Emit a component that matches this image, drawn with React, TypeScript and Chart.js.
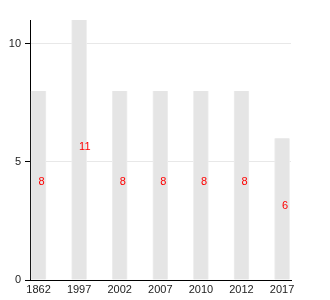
import React, { useEffect, useRef } from "react";
import { Chart, registerables } from "chart.js";

Chart.register(...registerables);

const categories = ["1862", "1997", "2002", "2007", "2010", "2012", "2017"];
const values = [8, 11, 8, 8, 8, 8, 6];
const yTicks = [0, 5, 10];

const labelPlugin = {
  id: "barLabels",
  afterDatasetsDraw(chart: any) {
    const ctx = chart.ctx;
    const meta = chart.getDatasetMeta(0);
    ctx.save();
    ctx.fillStyle = "#ff0000";
    ctx.font = "11px 'Liberation Sans', Arial, sans-serif";
    ctx.textAlign = "left";
    ctx.textBaseline = "middle";
    meta.data.forEach((el: any, i: number) => {
      const mid = (el.y + el.base) / 2 - 3;
      ctx.fillText(String(values[i]), el.x, mid);
    });
    ctx.restore();
  },
};

export default function App() {
  const ref = useRef<HTMLCanvasElement>(null);
  useEffect(() => {
    if (!ref.current) return;
    const chart = new Chart(ref.current, {
      type: "bar",
      data: {
        datasets: [
          {
            data: values.map((v, i) => ({ x: i, y: v })),
            backgroundColor: "#e5e5e5",
            borderColor: "#ededed",
            borderWidth: { left: 1, right: 1, top: 0, bottom: 0 },
            barThickness: 15,
          } as any,
        ],
      },
      plugins: [labelPlugin],
      options: {
        animation: false,
        responsive: true,
        maintainAspectRatio: false,
        layout: { padding: { left: 0, right: 39, top: 20, bottom: 0 } },
        plugins: { legend: { display: false }, tooltip: { enabled: false } },
        scales: {
          x: {
            type: "linear",
            offset: false,
            min: -0.21,
            max: 6.22,
            afterBuildTicks: (s: any) => {
              s.ticks = categories.map((_, i) => ({ value: i }));
            },
            afterFit: (s: any) => {
              s.height = 20;
            },
            grid: { display: false, drawTicks: false },
            border: { display: true, color: "#000", width: 1 },
            ticks: {
              callback: (v: any) => categories[v] ?? "",
              color: "#222",
              font: { family: "'Liberation Sans', Arial, sans-serif", size: 11 },
              padding: 3,
              maxRotation: 0,
              autoSkip: false,
            },
          },
          y: {
            min: 0,
            max: 11,
            afterBuildTicks: (s: any) => {
              s.ticks = yTicks.map((v) => ({ value: v }));
            },
            afterFit: (s: any) => {
              s.width = 30;
            },
            grid: { color: "#e8e8e8", tickColor: "#000", tickLength: 5 },
            border: { display: true, color: "#000", width: 1 },
            ticks: {
              color: "#222",
              font: { family: "'Liberation Sans', Arial, sans-serif", size: 11 },
              padding: 4,
            },
          },
        },
      },
    });
    return () => chart.destroy();
  }, []);
  return (
    <div style={{ position: "fixed", left: 0, top: 0, width: 330, height: 300, background: "#fff" }}>
      <canvas ref={ref} />
    </div>
  );
}
